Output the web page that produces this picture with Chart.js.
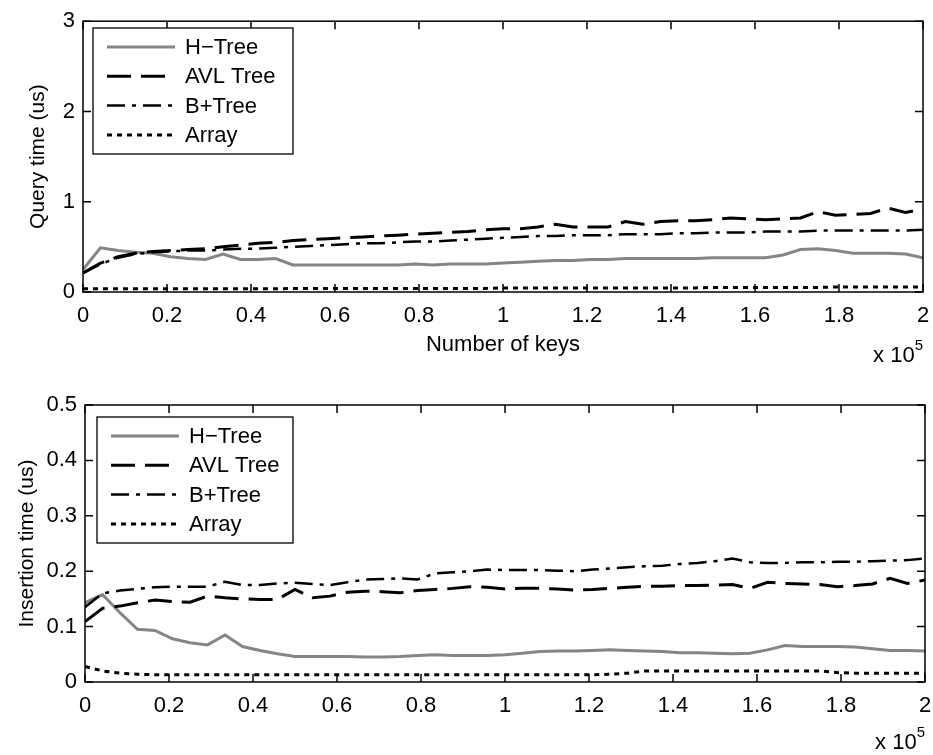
<!DOCTYPE html>
<html>
<head>
<meta charset="utf-8">
<script src="https://cdn.jsdelivr.net/npm/chart.js@4.4.1/dist/chart.umd.min.js"></script>
<style>
  html, body { margin: 0; padding: 0; background: #fff; }
  #wrap { position: relative; width: 933px; height: 755px; }
  canvas { position: absolute; left: 0; }
  #queryChart { top: 0; }
  #insertChart { top: 380px; }
</style>
</head>
<body>
<div id="wrap">
  <canvas id="queryChart" width="933" height="380"></canvas>
  <canvas id="insertChart" width="933" height="375"></canvas>
</div>
<script>
// number of keys (sample points)
const keys = [0, 4167, 8333, 12500, 16667, 20833, 25000, 29167, 33333, 37500,
  41667, 45833, 50000, 54167, 58333, 62500, 66667, 70833, 75000, 79167,
  83333, 87500, 91667, 95833, 100000, 104167, 108333, 112500, 116667, 120833,
  125000, 129167, 133333, 137500, 141667, 145833, 150000, 154167, 158333, 162500,
  166667, 170833, 175000, 179167, 183333, 187500, 191667, 195833, 200000];

const seriesNames = ['H\u2212Tree', 'AVL Tree', 'B+Tree', 'Array'];

// query time (us)
const queryH = [0.25, 0.49, 0.46, 0.44, 0.43, 0.39, 0.37, 0.36, 0.42, 0.36,
  0.36, 0.37, 0.30, 0.30, 0.30, 0.30, 0.30, 0.30, 0.30, 0.31,
  0.30, 0.31, 0.31, 0.31, 0.32, 0.33, 0.34, 0.35, 0.35, 0.36,
  0.36, 0.37, 0.37, 0.37, 0.37, 0.37, 0.38, 0.38, 0.38, 0.38,
  0.41, 0.47, 0.48, 0.46, 0.43, 0.43, 0.43, 0.42, 0.38];
const queryAVL = [0.21, 0.32, 0.39, 0.43, 0.45, 0.46, 0.47, 0.48, 0.50, 0.52,
  0.54, 0.55, 0.57, 0.58, 0.59, 0.60, 0.61, 0.62, 0.63, 0.64,
  0.65, 0.66, 0.67, 0.69, 0.70, 0.70, 0.72, 0.75, 0.72, 0.72,
  0.72, 0.78, 0.75, 0.78, 0.79, 0.79, 0.80, 0.82, 0.81, 0.80,
  0.81, 0.82, 0.89, 0.85, 0.86, 0.87, 0.93, 0.88, 0.92];
const queryBP = [0.21, 0.31, 0.38, 0.42, 0.44, 0.45, 0.46, 0.46, 0.47, 0.48,
  0.48, 0.49, 0.50, 0.51, 0.52, 0.53, 0.54, 0.54, 0.55, 0.56,
  0.56, 0.57, 0.58, 0.59, 0.60, 0.61, 0.62, 0.62, 0.63, 0.63,
  0.63, 0.64, 0.64, 0.64, 0.65, 0.65, 0.66, 0.66, 0.66, 0.67,
  0.67, 0.67, 0.68, 0.68, 0.68, 0.68, 0.68, 0.68, 0.69];
const queryArr = [0.035, 0.035, 0.035, 0.035, 0.035, 0.035, 0.035, 0.035, 0.035, 0.035,
  0.035, 0.035, 0.04, 0.04, 0.04, 0.04, 0.04, 0.04, 0.04, 0.04,
  0.04, 0.04, 0.04, 0.04, 0.045, 0.045, 0.045, 0.045, 0.045, 0.045,
  0.045, 0.045, 0.045, 0.045, 0.045, 0.045, 0.05, 0.05, 0.05, 0.05,
  0.05, 0.05, 0.05, 0.055, 0.055, 0.055, 0.055, 0.055, 0.055];

// insertion time (us)
const insertH = [0.143, 0.158, 0.125, 0.095, 0.093, 0.078, 0.071, 0.067, 0.085, 0.064,
  0.057, 0.051, 0.046, 0.046, 0.046, 0.046, 0.045, 0.045, 0.046, 0.048,
  0.049, 0.048, 0.048, 0.048, 0.049, 0.052, 0.055, 0.056, 0.056, 0.057,
  0.058, 0.057, 0.056, 0.055, 0.053, 0.053, 0.052, 0.051, 0.052, 0.058,
  0.066, 0.064, 0.064, 0.064, 0.063, 0.060, 0.057, 0.057, 0.056];
const insertAVL = [0.109, 0.133, 0.137, 0.143, 0.148, 0.145, 0.144, 0.155, 0.152, 0.150,
  0.149, 0.149, 0.167, 0.152, 0.155, 0.162, 0.164, 0.163, 0.161, 0.165,
  0.167, 0.169, 0.172, 0.171, 0.168, 0.169, 0.169, 0.168, 0.166, 0.167,
  0.169, 0.171, 0.173, 0.173, 0.174, 0.174, 0.175, 0.176, 0.169, 0.180,
  0.178, 0.177, 0.176, 0.172, 0.174, 0.177, 0.187, 0.178, 0.184];
const insertBP = [0.135, 0.160, 0.165, 0.168, 0.171, 0.172, 0.172, 0.172, 0.181, 0.175,
  0.175, 0.178, 0.179, 0.177, 0.175, 0.180, 0.185, 0.186, 0.187, 0.185,
  0.196, 0.198, 0.200, 0.203, 0.202, 0.202, 0.202, 0.201, 0.200, 0.203,
  0.205, 0.207, 0.209, 0.210, 0.213, 0.215, 0.218, 0.223, 0.216, 0.215,
  0.215, 0.216, 0.216, 0.217, 0.217, 0.218, 0.219, 0.220, 0.223];
const insertArr = [0.028, 0.020, 0.016, 0.014, 0.013, 0.013, 0.013, 0.013, 0.013, 0.013,
  0.013, 0.013, 0.013, 0.013, 0.013, 0.013, 0.013, 0.013, 0.013, 0.013,
  0.013, 0.013, 0.013, 0.013, 0.013, 0.013, 0.013, 0.013, 0.013, 0.013,
  0.014, 0.016, 0.020, 0.020, 0.020, 0.020, 0.020, 0.020, 0.020, 0.020,
  0.020, 0.020, 0.020, 0.017, 0.016, 0.016, 0.016, 0.016, 0.016];

Chart.defaults.font.family = '"Liberation Sans", Arial, sans-serif';
Chart.defaults.color = '#000';

const FONT = '"Liberation Sans", Arial, sans-serif';

// matlab style box, inward ticks, legend and x10^5 note
const matlabFrame = {
  id: 'matlabFrame',
  afterDraw(chart, args, opts) {
    const { ctx, chartArea: a, scales } = chart;
    ctx.save();
    ctx.strokeStyle = '#000';
    ctx.lineWidth = 1.5;
    ctx.setLineDash([]);
    ctx.strokeRect(a.left, a.top, a.right - a.left, a.bottom - a.top);

    const len = 8;
    ctx.beginPath();
    scales.x.ticks.forEach(t => {
      const px = scales.x.getPixelForValue(t.value);
      ctx.moveTo(px, a.bottom); ctx.lineTo(px, a.bottom - len);
      ctx.moveTo(px, a.top); ctx.lineTo(px, a.top + len);
    });
    scales.y.ticks.forEach(t => {
      const py = scales.y.getPixelForValue(t.value);
      ctx.moveTo(a.left, py); ctx.lineTo(a.left + len, py);
      ctx.moveTo(a.right, py); ctx.lineTo(a.right - len, py);
    });
    ctx.stroke();

    // legend
    const lg = opts.legend;
    ctx.fillStyle = '#fff';
    ctx.fillRect(lg.x, lg.y, lg.w, lg.h);
    ctx.lineWidth = 1.3;
    ctx.strokeRect(lg.x, lg.y, lg.w, lg.h);
    ctx.font = '22px ' + FONT;
    ctx.textBaseline = 'middle';
    chart.data.datasets.forEach((ds, i) => {
      const y = lg.y + 19 + i * 29.3;
      ctx.beginPath();
      ctx.strokeStyle = ds.borderColor;
      ctx.lineWidth = ds.borderWidth;
      ctx.setLineDash(ds.borderDash || []);
      ctx.moveTo(lg.x + 14, y);
      ctx.lineTo(lg.x + 82, y);
      ctx.stroke();
      ctx.fillStyle = '#000';
      ctx.fillText(ds.label, lg.x + 92, y + 1);
    });
    ctx.setLineDash([]);

    // exponent note
    ctx.fillStyle = '#000';
    ctx.textBaseline = 'alphabetic';
    ctx.textAlign = 'right';
    ctx.font = '15px ' + FONT;
    const sup = ctx.measureText('5').width;
    ctx.fillText('5', a.right, opts.expY - 12);
    ctx.font = '22px ' + FONT;
    ctx.fillText('x 10', a.right - sup, opts.expY);
    ctx.restore();
  }
};

function makeSets(h, avl, bp, arr) {
  const pts = vals => keys.map((k, i) => ({ x: k, y: vals[i] }));
  return [
    { label: seriesNames[0], data: pts(h), borderColor: '#858585', borderWidth: 3, order: 4 },
    { label: seriesNames[1], data: pts(avl), borderColor: '#000', borderWidth: 3, borderDash: [24, 10], order: 3 },
    { label: seriesNames[2], data: pts(bp), borderColor: '#000', borderWidth: 2.5, borderDash: [18, 7, 4, 7], order: 2 },
    { label: seriesNames[3], data: pts(arr), borderColor: '#000', borderWidth: 3, borderDash: [5, 5], order: 1 }
  ];
}

function makeOptions(cfg) {
  return {
    responsive: false,
    animation: false,
    layout: { padding: cfg.padding },
    elements: { point: { radius: 0 }, line: { tension: 0, fill: false } },
    plugins: {
      legend: { display: false },
      tooltip: { enabled: false },
      matlabFrame: { legend: cfg.legend, expY: cfg.expY }
    },
    scales: {
      x: {
        type: 'linear',
        min: 0,
        max: 200000,
        grid: { display: false, drawTicks: false },
        border: { display: false },
        ticks: {
          stepSize: 20000,
          padding: 11,
          maxRotation: 0,
          font: { size: 22 },
          callback: v => String(Math.round(v / 10000) / 10)
        },
        title: {
          display: !!cfg.xTitle,
          text: cfg.xTitle || '',
          font: { size: 22 },
          padding: { top: 0, bottom: 22 }
        },
        afterFit: s => {
          s.height = cfg.xHeight;
          s.paddingLeft = 0;
          s.paddingRight = 0;
        }
      },
      y: {
        min: 0,
        max: cfg.yMax,
        grid: { display: false, drawTicks: false },
        border: { display: false },
        ticks: {
          stepSize: cfg.yStep,
          padding: 8,
          font: { size: 22 },
          callback: v => String(Math.round(v * 10) / 10)
        },
        title: {
          display: true,
          text: cfg.yTitle,
          font: { size: 21 },
          padding: { top: cfg.yTitlePad, bottom: 0 }
        },
        afterFit: s => { s.width = cfg.yWidth; }
      }
    }
  };
}

new Chart(document.getElementById('queryChart'), {
  type: 'line',
  data: { datasets: makeSets(queryH, queryAVL, queryBP, queryArr) },
  options: makeOptions({
    padding: { top: 16, right: 10, left: 0, bottom: 0 },
    yWidth: 83, xHeight: 88, yMax: 3, yStep: 1,
    yTitle: 'Query time (us)', xTitle: 'Number of keys', yTitlePad: 26,
    legend: { x: 93, y: 28, w: 200, h: 126 },
    expY: 362
  }),
  plugins: [matlabFrame]
});

new Chart(document.getElementById('insertChart'), {
  type: 'line',
  data: { datasets: makeSets(insertH, insertAVL, insertBP, insertArr) },
  options: makeOptions({
    padding: { top: 25, right: 8, left: 0, bottom: 0 },
    yWidth: 85, xHeight: 73, yMax: 0.5, yStep: 0.1,
    yTitle: 'Insertion time (us)', xTitle: null, yTitlePad: 15,
    legend: { x: 97, y: 37, w: 196, h: 126 },
    expY: 369
  }),
  plugins: [matlabFrame]
});
</script>
</body>
</html>
